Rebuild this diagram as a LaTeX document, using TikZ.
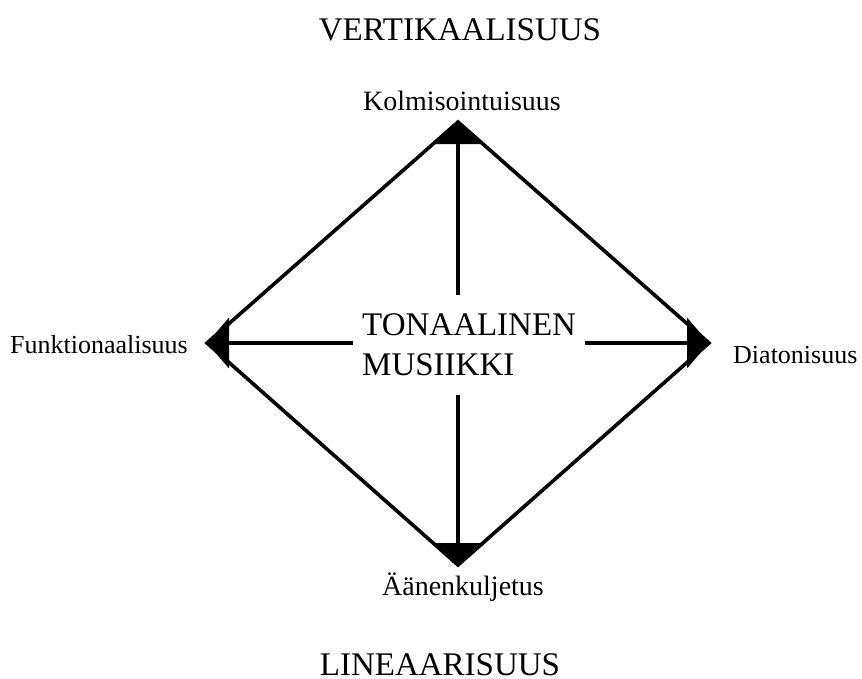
\documentclass[tikz,border=0pt]{standalone}
\usepackage{fontspec}
\setmainfont{Liberation Serif}
\usetikzlibrary{arrows.meta}
\tikzset{
  title/.style={font=\fontsize{33}{40}\selectfont, inner sep=0pt, anchor=base},
  lab/.style={font=\fontsize{26}{30}\selectfont, inner sep=0pt, anchor=base},
  labbig/.style={font=\fontsize{28}{32}\selectfont, inner sep=0pt, anchor=base},
  centre/.style={font=\fontsize{33}{40}\selectfont, inner sep=0pt, anchor=base west},
  edge/.style={line width=3.6pt, line join=miter},
  spoke/.style={line width=4pt, -{Triangle[length=22pt,width=50pt]}}
}
\begin{document}
\begin{tikzpicture}[x=1pt,y=-1pt]
\useasboundingbox (0,0) rectangle (862,678);
\coordinate (T) at (458,122);
\coordinate (L) at (207,343);
\coordinate (R) at (709,343);
\coordinate (B) at (458,565);
\coordinate (cT) at (458,295);
\coordinate (cB) at (458,395);
\coordinate (cL) at (353,343);
\coordinate (cR) at (585,343);
\draw[edge] (T) -- (R) -- (B) -- (L) -- cycle;
\draw[spoke] (cT) -- (T);
\draw[spoke] (cB) -- (B);
\draw[spoke] (cL) -- (L);
\draw[spoke] (cR) -- (R);
\node[title] (vert) at (460,40) {VERTIKAALISUUS};
\node[title] (lin) at (440,675) {LINEAARISUUS};
\node[labbig] (kol) at (462,110) {Kolmisointuisuus};
\node[lab, anchor=base east] (fun) at (188,353) {Funktionaalisuus};
\node[lab, anchor=base west] (dia) at (733,363) {Diatonisuus};
\node[labbig] (aan) at (463,595) {Äänenkuljetus};
\node[centre] (ton1) at (362,335) {TONAALINEN};
\node[centre] (ton2) at (362,375) {MUSIIKKI};
\end{tikzpicture}
\end{document}
